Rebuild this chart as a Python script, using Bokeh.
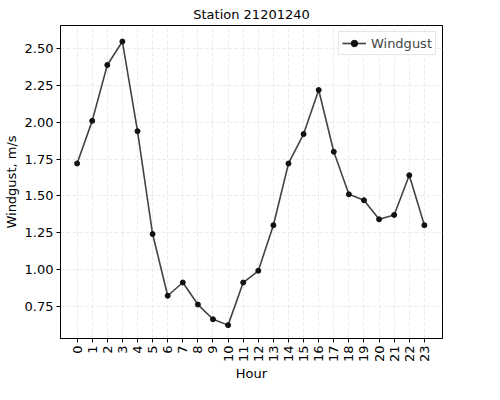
import math

from bokeh.embed import file_html
from bokeh.models import FixedTicker, PrintfTickFormatter, Range1d
from bokeh.plotting import figure
from bokeh.resources import INLINE

hours = list(range(24))
windgust = [1.72, 2.01, 2.39, 2.55, 1.94, 1.24, 0.82, 0.91, 0.76, 0.66, 0.62, 0.91,
            0.99, 1.30, 1.72, 1.92, 2.22, 1.80, 1.51, 1.47, 1.34, 1.37, 1.64, 1.30]
y_ticks = [0.75, 1.00, 1.25, 1.50, 1.75, 2.00, 2.25, 2.50]

p = figure(width=484, height=384, output_backend="svg", toolbar_location=None,
           title="Station 21201240",
           x_range=Range1d(-1.1, 24.2), y_range=Range1d(0.529, 2.659),
           min_border_left=55, min_border_right=42, min_border_top=22,
           min_border_bottom=30)
p.title.align = "center"
p.title.text_font = "DejaVu Sans"
p.title.text_font_size = "13px"
p.title.text_font_style = "normal"
p.title.text_color = "black"
p.title.standoff = 8

p.line(hours, windgust, line_color="#222222", line_alpha=0.85, line_width=1.6,
       legend_label="Windgust")
p.scatter(hours, windgust, size=5, color="#111111", legend_label="Windgust")

p.xaxis.ticker = FixedTicker(ticks=hours)
p.xaxis.major_label_orientation = math.pi / 2
p.yaxis.ticker = FixedTicker(ticks=y_ticks)
p.yaxis.formatter = PrintfTickFormatter(format="%.2f")
p.xaxis.axis_label = "Hour"
p.yaxis.axis_label = "Windgust, m/s"
for ax in (p.xaxis, p.yaxis):
    ax.axis_label_text_font = "DejaVu Sans"
    ax.axis_label_text_font_size = "13px"
    ax.axis_label_text_font_style = "normal"
    ax.axis_label_text_color = "black"
    ax.major_label_text_font = "DejaVu Sans"
    ax.major_label_text_font_size = "13px"
    ax.major_label_text_color = "black"
    ax.minor_tick_line_color = None
    ax.axis_line_color = "black"
    ax.major_tick_out = 4
    ax.major_tick_in = 0
    ax.axis_label_standoff = 3
    ax.major_label_standoff = 3
p.xaxis.axis_label_standoff = 1

p.grid.grid_line_color = "#dddddd"
p.grid.grid_line_alpha = 0.6
p.grid.grid_line_dash = "4 2"
p.outline_line_color = "black"
p.outline_line_alpha = 1

p.legend.location = "top_right"
p.legend.label_text_font = "DejaVu Sans"
p.legend.label_text_font_size = "13px"
p.legend.border_line_color = "#cccccc"
p.legend.margin = 6
p.legend.padding = 3
p.legend.glyph_width = 24
p.legend.glyph_height = 16

open("out.html", "w").write(file_html(p, INLINE))
